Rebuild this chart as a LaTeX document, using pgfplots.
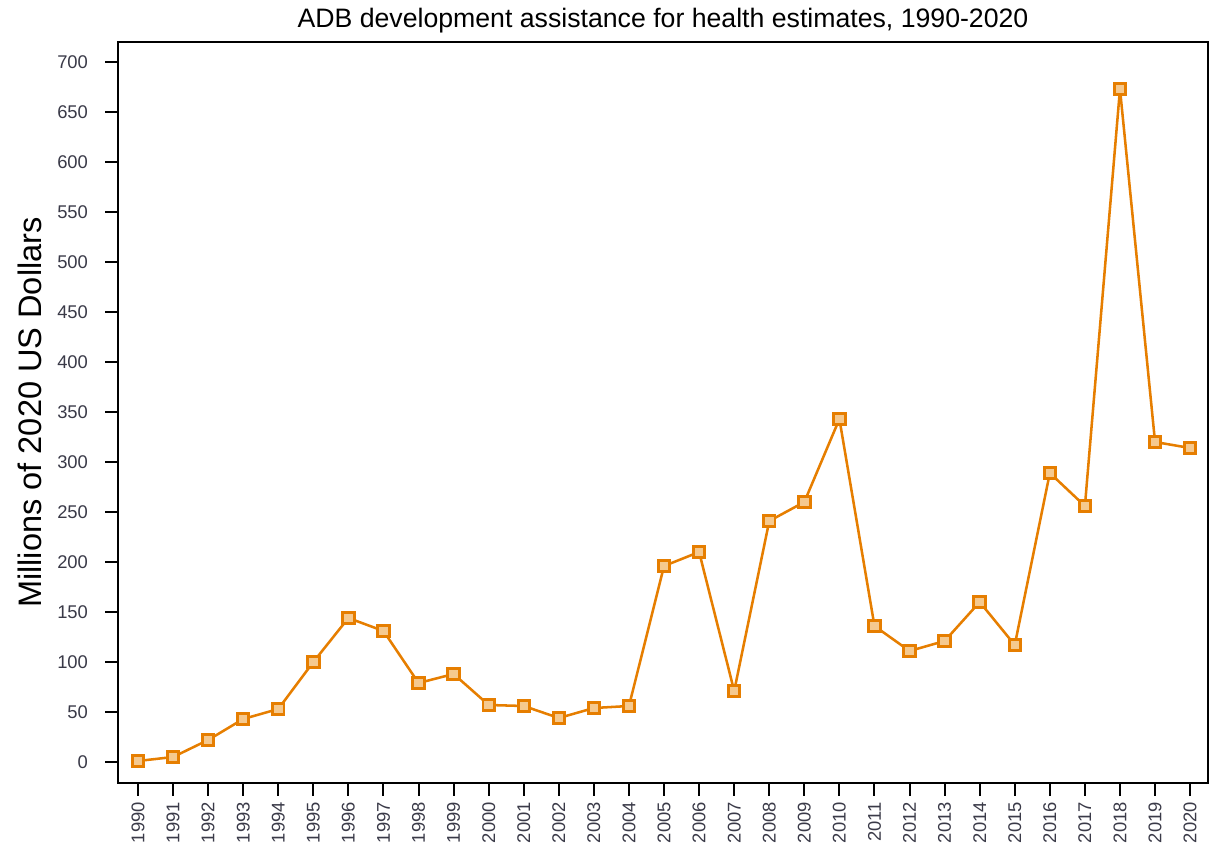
\documentclass[border=0pt]{standalone}
\usepackage{pgfplots}
\pgfplotsset{compat=1.18}
\usepackage{fontspec}
\setmainfont{Liberation Sans}
\definecolor{adborange}{HTML}{E67E00}
\definecolor{adbfill}{HTML}{F5C98F}
\definecolor{ticktext}{HTML}{3A3A48}
\begin{document}
\begin{tikzpicture}
\begin{axis}[
    scale only axis,
    width=817.5pt, height=555.75pt,
    xmin=1989.43, xmax=2020.51,
    ymin=-21, ymax=720,
    xtick={1990,1991,...,2020},
    ytick={0,50,...,700},
    axis line style={line width=1.5pt},
    tick style={line width=1.5pt, black},
    tick align=outside,
    major tick length=9.5pt,
    xtick pos=bottom, ytick pos=left,
    x tick label style={rotate=90, anchor=east, font=\fontsize{13.8}{14}\selectfont, text=ticktext, /pgf/number format/1000 sep={}, xshift=-1.4pt},
    y tick label style={font=\fontsize{13.8}{14}\selectfont, text=ticktext, xshift=-9.5pt},
    /pgf/number format/assume math mode=true,
    title={ADB development assistance for health estimates, 1990-2020},
    title style={font=\fontsize{20}{22}\selectfont, at={(0.5,1)}, anchor=south, yshift=-3pt},
    ylabel={Millions of 2020 US Dollars},
    ylabel style={font=\fontsize{24.4}{26}\selectfont, at={(rel axis cs:0,0.5)}, anchor=center, yshift=66pt},
]
\addplot[color=adborange, line width=1.9pt, mark=square*,
    mark size=4.3pt, mark options={fill=adbfill, draw=adborange, line width=2.2pt}]
coordinates {
(1990,1) (1991,5) (1992,22) (1993,43) (1994,53) (1995,100) (1996,144)
(1997,131) (1998,79) (1999,88) (2000,57) (2001,56) (2002,44) (2003,54)
(2004,56) (2005,196) (2006,210) (2007,71) (2008,241) (2009,260)
(2010,343) (2011,136) (2012,111) (2013,121) (2014,160) (2015,117)
(2016,289) (2017,256) (2018,673) (2019,320) (2020,314)
};
\end{axis}
\pgfresetboundingbox
\path ([shift={(-88.5pt,-50.25pt)}]current axis.south west) rectangle ([shift={(1.5pt,31.5pt)}]current axis.north east);
\end{tikzpicture}
\end{document}
